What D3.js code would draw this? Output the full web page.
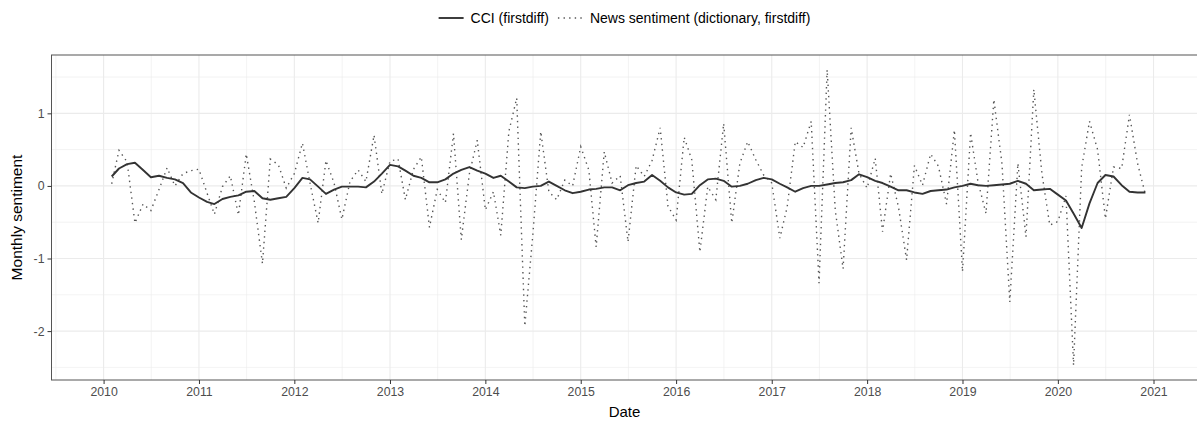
<!DOCTYPE html>
<html>
<head>
<meta charset="utf-8">
<script src="https://cdn.jsdelivr.net/npm/d3@7"></script>
<style>
  html, body { margin: 0; padding: 0; background: #fff; }
  svg { display: block; font-family: "Liberation Sans", Arial, Helvetica, sans-serif; }
</style>
</head>
<body>
<svg id="chart" width="1197" height="424"></svg>
<script>
// ---- data (monthly, first month is NA because of first differencing) ----
const startMonth = "2010-01";
const endMonth = "2020-12";
const seriesNames = ["CCI (firstdiff)", "News sentiment (dictionary, firstdiff)"];
const yTickValues = [-2, -1, 0, 1];
const yTickLabels = ["-2", "-1", "0", "1"];
const xTickLabels = ["2010","2011","2012","2013","2014","2015","2016","2017","2018","2019","2020","2021"];

const cci = [null,
  0.13, 0.24, 0.30, 0.32, 0.22, 0.12, 0.14, 0.11, 0.09, 0.04, -0.09,
  -0.16, -0.22, -0.25, -0.18, -0.15, -0.13, -0.08, -0.07, -0.17, -0.19, -0.17, -0.15,
  -0.03, 0.11, 0.09, -0.01, -0.11, -0.05, -0.01, -0.01, -0.01, -0.02, 0.06, 0.17,
  0.29, 0.27, 0.21, 0.14, 0.11, 0.05, 0.05, 0.09, 0.17, 0.22, 0.26, 0.21,
  0.17, 0.11, 0.14, 0.06, -0.02, -0.03, -0.01, 0.00, 0.06, 0.00, -0.06, -0.10,
  -0.08, -0.05, -0.04, -0.02, -0.02, -0.06, 0.01, 0.04, 0.06, 0.15, 0.07, -0.02,
  -0.09, -0.12, -0.11, 0.01, 0.09, 0.10, 0.07, -0.01, 0.00, 0.03, 0.08, 0.11,
  0.09, 0.03, -0.02, -0.08, -0.03, 0.00, 0.00, 0.02, 0.04, 0.05, 0.08, 0.16,
  0.12, 0.07, 0.04, -0.01, -0.06, -0.06, -0.09, -0.11, -0.07, -0.06, -0.05, -0.02,
  0.00, 0.03, 0.01, 0.00, 0.01, 0.02, 0.03, 0.07, 0.03, -0.06, -0.05, -0.04,
  -0.12, -0.20, -0.38, -0.58, -0.24, 0.04, 0.15, 0.13, 0.01, -0.08, -0.09, -0.09
];

const news = [null,
  0.03, 0.49, 0.33, -0.51, -0.25, -0.34, -0.05, 0.25, 0.00, 0.17, 0.21,
  0.23, -0.10, -0.39, -0.01, 0.14, -0.40, 0.44, -0.22, -1.07, 0.37, 0.29, -0.03,
  0.17, 0.59, 0.04, -0.51, 0.35, 0.04, -0.46, 0.06, 0.22, 0.06, 0.70, -0.11,
  0.34, 0.37, -0.19, 0.23, 0.40, -0.57, -0.05, -0.23, 0.72, -0.74, 0.17, 0.63,
  -0.33, -0.08, -0.68, 0.75, 1.21, -1.93, -0.70, 0.75, -0.08, -0.19, 0.08, 0.00,
  0.54, 0.22, -0.84, 0.47, 0.04, 0.14, -0.77, 0.28, 0.13, 0.35, 0.80, -0.28,
  -0.47, 0.67, 0.36, -0.91, -0.01, -0.19, 0.86, -0.51, 0.31, 0.61, 0.36, 0.15,
  0.04, -0.72, -0.29, 0.61, 0.53, 0.89, -1.34, 1.60, -0.33, -1.14, 0.80, 0.17,
  -0.03, 0.38, -0.63, 0.17, -0.29, -1.02, 0.28, 0.01, 0.44, 0.27, -0.25, 0.77,
  -1.18, 0.73, 0.06, -0.38, 1.19, 0.31, -1.60, 0.31, -0.70, 1.33, 0.17, -0.54,
  -0.49, -0.14, -2.47, 0.25, 0.89, 0.50, -0.45, 0.26, 0.24, 0.98, 0.31, -0.12
];

// ---- layout ----
const W = 1197, H = 424;
const panel = { left: 51.5, right: 1197.5, top: 55, bottom: 380 };

const parseMonth = d3.timeParse("%Y-%m");
const dates = d3.timeMonth.range(parseMonth(startMonth), d3.timeMonth.offset(parseMonth(endMonth), 1));

const rows = dates.map((d, i) => ({ date: d, cci: cci[i], news: news[i] }));

// ggplot-like 5% expansion
const xExt = d3.extent(dates, d => +d);
const xPad = (xExt[1] - xExt[0]) * 0.05;
const x = d3.scaleTime()
  .domain([new Date(xExt[0] - xPad), new Date(xExt[1] + xPad)])
  .range([panel.left, panel.right]);

const allVals = cci.concat(news).filter(v => v !== null);
const yExt = d3.extent(allVals);
const yPad = (yExt[1] - yExt[0]) * 0.05;
const y = d3.scaleLinear()
  .domain([yExt[0] - yPad, yExt[1] + yPad])
  .range([panel.bottom, panel.top]);

const svg = d3.select("#chart");
svg.append("rect").attr("width", W).attr("height", H).attr("fill", "#fff");

const g = svg.append("g");

// clip
svg.append("clipPath").attr("id", "clip").append("rect")
  .attr("x", panel.left).attr("y", panel.top)
  .attr("width", panel.right - panel.left).attr("height", panel.bottom - panel.top);

// gridlines
const majorX = xTickLabels.map(s => d3.timeParse("%Y")(s));
const minorX = [];
const step = +majorX[1] - +majorX[0];
const extMajor = [new Date(+majorX[0] - step)].concat(majorX);
for (let i = 0; i < extMajor.length - 1; i++) {
  minorX.push(new Date((+extMajor[i] + +extMajor[i + 1]) / 2));
}
minorX.push(new Date(+majorX[majorX.length - 1] + step / 2));
const [dx0, dx1] = x.domain();
const minorXIn = minorX.filter(d => d >= dx0 && d <= dx1);
const majorY = yTickValues;
const minorY = [-2.5, -1.5, -0.5, 0.5, 1.5].filter(v => v >= y.domain()[0] && v <= y.domain()[1]);

const grid = g.append("g").attr("clip-path", "url(#clip)");
grid.selectAll(".mnx").data(minorXIn).join("line")
  .attr("x1", d => x(d)).attr("x2", d => x(d))
  .attr("y1", panel.top).attr("y2", panel.bottom)
  .attr("stroke", "#EBEBEB").attr("stroke-width", 0.6);
grid.selectAll(".mny").data(minorY).join("line")
  .attr("x1", panel.left).attr("x2", panel.right)
  .attr("y1", d => y(d)).attr("y2", d => y(d))
  .attr("stroke", "#EBEBEB").attr("stroke-width", 0.6);
grid.selectAll(".mjx").data(majorX).join("line")
  .attr("x1", d => x(d)).attr("x2", d => x(d))
  .attr("y1", panel.top).attr("y2", panel.bottom)
  .attr("stroke", "#EBEBEB").attr("stroke-width", 1.1);
grid.selectAll(".mjy").data(majorY).join("line")
  .attr("x1", panel.left).attr("x2", panel.right)
  .attr("y1", d => y(d)).attr("y2", d => y(d))
  .attr("stroke", "#EBEBEB").attr("stroke-width", 1.1);

// lines
const lines = g.append("g").attr("clip-path", "url(#clip)");
const lineNews = d3.line().defined(d => d.news !== null).x(d => x(d.date)).y(d => y(d.news));
const lineCci = d3.line().defined(d => d.cci !== null).x(d => x(d.date)).y(d => y(d.cci));

lines.append("path").datum(rows).attr("d", lineNews)
  .attr("fill", "none").attr("stroke", "#555").attr("stroke-width", 1.4)
  .attr("stroke-dasharray", "1.4,4.2");
lines.append("path").datum(rows).attr("d", lineCci)
  .attr("fill", "none").attr("stroke", "#333").attr("stroke-width", 1.9)
  .attr("stroke-linejoin", "round");

// panel border
g.append("rect")
  .attr("x", panel.left).attr("y", panel.top)
  .attr("width", panel.right - panel.left).attr("height", panel.bottom - panel.top)
  .attr("fill", "none").attr("stroke", "#555").attr("stroke-width", 1);

// axes
const xAxis = d3.axisBottom(x).tickValues(majorX)
  .tickFormat((d, i) => xTickLabels[i]).tickSize(4).tickPadding(3);
const xg = g.append("g").attr("transform", `translate(0,${panel.bottom})`).call(xAxis);
xg.select(".domain").remove();
xg.selectAll(".tick line").attr("stroke", "#333").attr("stroke-width", 1);
xg.selectAll(".tick text").attr("fill", "#4D4D4D").attr("font-size", "12.3px")
  .attr("font-family", "Liberation Sans, Arial, sans-serif");

const yAxis = d3.axisLeft(y).tickValues(yTickValues)
  .tickFormat((d, i) => yTickLabels[i]).tickSize(4).tickPadding(3);
const yg = g.append("g").attr("transform", `translate(${panel.left},0)`).call(yAxis);
yg.select(".domain").remove();
yg.selectAll(".tick line").attr("stroke", "#333").attr("stroke-width", 1);
yg.selectAll(".tick text").attr("fill", "#4D4D4D").attr("font-size", "12.3px")
  .attr("font-family", "Liberation Sans, Arial, sans-serif");

// axis titles
const cx = (panel.left + panel.right) / 2;
g.append("text").attr("x", cx).attr("y", 417).attr("text-anchor", "middle")
  .attr("font-size", "15px").attr("fill", "#000").text("Date");
g.append("text")
  .attr("transform", `translate(22,${(panel.top + panel.bottom) / 2}) rotate(-90)`)
  .attr("text-anchor", "middle").attr("font-size", "15.5px").attr("fill", "#000")
  .text("Monthly sentiment");

// legend
const leg = g.append("g");
const keyLen = 25, keyGap = 7, itemGap = 9;
let cursor = 0;
const items = [
  { name: seriesNames[0], dash: null, color: "#333", w: 1.9 },
  { name: seriesNames[1], dash: "1.4,4.2", color: "#555", w: 1.4 }
];
items.forEach(it => {
  const ln = leg.append("line").attr("x1", cursor).attr("x2", cursor + keyLen)
    .attr("y1", 0).attr("y2", 0).attr("stroke", it.color).attr("stroke-width", it.w);
  if (it.dash) ln.attr("stroke-dasharray", it.dash);
  const t = leg.append("text").attr("x", cursor + keyLen + keyGap).attr("y", 5)
    .attr("font-size", "14px").attr("fill", "#000").text(it.name);
  cursor += keyLen + keyGap + t.node().getComputedTextLength() + itemGap;
});
const legW = cursor - itemGap;
leg.attr("transform", `translate(${cx - legW / 2},18)`);
</script>
</body>
</html>
